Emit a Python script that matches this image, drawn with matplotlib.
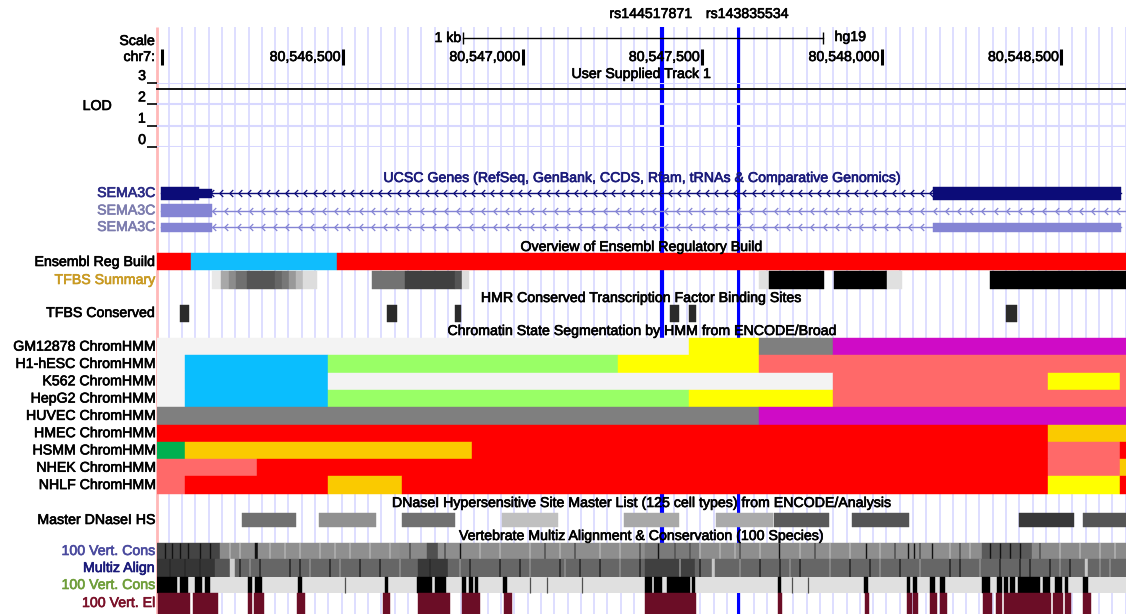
import numpy as np
import matplotlib.pyplot as plt
import matplotlib.patheffects as pe
from matplotlib.path import Path
from matplotlib.transforms import offset_copy

plt.rcParams['font.family'] = ['Liberation Sans', 'DejaVu Sans']

# browser window, chr7 (hg19)
win_start, win_end = 80545982, 80548680
pos_ticks = [80546500, 80547000, 80547500, 80548000, 80548500]
scale_bar = (80546835, 80547835)

snp_names = ['rs144517871', 'rs143835534']
snp_pos = [80547388, 80547600]

# user supplied track (LOD)
lod_pos = [win_start, win_end]
lod_val = [2.72, 2.72]

# UCSC genes: (start, end, kind) blocks
gene_labels = ['SEMA3C', 'SEMA3C', 'SEMA3C']
gene_tx = [(80545993, 80548666), (80545993, 80549200), (80545993, 80548666)]
gene_blocks = [
    [(80545993, 80546099, 'cds'), (80546099, 80546135, 'utr'), (80548142, 80548666, 'cds')],
    [(80545993, 80546135, 'cds')],
    [(80545993, 80546135, 'utr'), (80548142, 80548666, 'utr')],
]

# Ensembl regulatory build
reg_bounds = [win_start, 80546077, 80546483, win_end]
reg_colors = ['#ff0000', '#10bdfd', '#ff0000']

# TFBS summary
tfbs_start = [80546135, 80546160, 80546182, 80546202, 80546233, 80546311, 80546330, 80546349,
              80546369, 80546388, 80546581, 80546672, 80546812, 80546831, 80547658, 80547686,
              80547867, 80548014, 80548301]
tfbs_end = [80546160, 80546182, 80546202, 80546233, 80546311, 80546330, 80546349, 80546369,
            80546388, 80546427, 80546672, 80546812, 80546831, 80546851, 80547686, 80547839,
            80548014, 80548056, 80548680]
tfbs_gray = ['#e8e8e8', '#a8a8a8', '#8c8c8c', '#707070', '#555555', '#666666', '#787878', '#999999',
             '#bbbbbb', '#dddddd', '#727272', '#404040', '#555555', '#dddddd', '#e0e0e0', '#000000',
             '#000000', '#e0e0e0', '#000000']

# HMR conserved TFBS
tfbs_cons_start = [80546046, 80546622, 80546812, 80547410, 80547463, 80548346]
tfbs_cons_end = [80546071, 80546650, 80546828, 80547435, 80547483, 80548376]

# ChromHMM
hmm_colors = {
    'ActProm': '#ff0000', 'WeakProm': '#ff6969', 'PoisProm': '#cf0bc6',
    'StrEnh': '#faca00', 'WeakEnh': '#ffff00', 'Insulator': '#0abefe',
    'TxnTrans': '#00b050', 'WeakTxn': '#99ff66', 'Repressed': '#7f7f7f',
    'Heterochrom': '#f3f3f3',
}
hmm_cells = ['GM12878', 'H1-hESC', 'K562', 'HepG2', 'HUVEC', 'HMEC', 'HSMM', 'NHEK', 'NHLF']
hmm_bounds = [
    [win_start, 80547463, 80547658, 80547864, win_end],
    [win_start, 80546060, 80546458, 80547265, 80547658, win_end],
    [win_start, 80546060, 80546458, 80547864, 80548463, 80548663, win_end],
    [win_start, 80546060, 80546458, 80547463, 80547864, win_end],
    [win_start, 80547658, win_end],
    [win_start, 80548463, win_end],
    [win_start, 80546060, 80546859, 80548463, 80548663, win_end],
    [win_start, 80546260, 80548463, 80548663, win_end],
    [win_start, 80546060, 80546458, 80546664, 80548463, 80548663, win_end],
]
hmm_states = [
    ['Heterochrom', 'WeakEnh', 'Repressed', 'PoisProm'],
    ['Heterochrom', 'Insulator', 'WeakTxn', 'WeakEnh', 'WeakProm'],
    ['Heterochrom', 'Insulator', 'Heterochrom', 'WeakProm', 'WeakEnh', 'WeakProm'],
    ['Heterochrom', 'Insulator', 'WeakTxn', 'WeakEnh', 'WeakProm'],
    ['Repressed', 'PoisProm'],
    ['ActProm', 'StrEnh'],
    ['TxnTrans', 'StrEnh', 'ActProm', 'WeakProm', 'ActProm'],
    ['WeakProm', 'ActProm', 'WeakProm', 'StrEnh'],
    ['WeakProm', 'ActProm', 'StrEnh', 'ActProm', 'WeakEnh', 'ActProm'],
]

# DNaseI master list
dnase_start = [80546219, 80546433, 80546664, 80546942, 80547282, 80547538, 80547700, 80547917,
               80548382, 80548560]
dnase_end = [80546369, 80546592, 80546812, 80547098, 80547435, 80547697, 80547853, 80548076,
             80548535, 80548680]
dnase_gray = ['#707070', '#909090', '#707070', '#c0c0c0', '#a8a8a8', '#aaaaaa', '#5a5a5a',
              '#555555', '#383838', '#555555']

# 100 vert. conservation (dense)
cons_bounds = [win_start, 80546157, 80546255, 80546263, 80546659, 80546734, 80546764, 80547341,
               80547494, 80548279, 80548418, win_end]
cons_gray = ['#444444', '#8c8c8c', '#111111', '#8f8f8f', '#8a8a8a', '#505050', '#8e8e8e',
             '#7a7a7a', '#8e8e8e', '#5a5a5a', '#8a8a8a']
cons_dark = [80546004, 80546024, 80546046, 80546068, 80546102, 80546130, 80546826, 80547377,
             80547714, 80547956, 80548073, 80548090, 80548140, 80548301, 80548329, 80548357,
             80548385]
cons_mid = [80546686, 80546784, 80547062, 80547146, 80547327, 80547424, 80547466, 80547605,
            80547814, 80548037, 80548106, 80548218, 80548440]
cons_light = [80546185, 80546213, 80546297, 80546338, 80546380, 80546436, 80546478, 80546519,
              80546575, 80546631, 80546881, 80546937, 80547020, 80547104, 80547215, 80547271,
              80547494, 80547549, 80547591, 80547661, 80547772, 80547856, 80547911, 80547995,
              80548190, 80548245, 80548496, 80548552, 80548607, 80548649]

# multiz alignment
multiz_bounds = [win_start, 80546143, 80546185, 80546199, 80546709, 80546792, 80547341, 80547480,
                 80547527, 80547535, 80548566, 80548574, win_end]
multiz_gray = ['#353535', '#555555', '#d0d0d0', '#666666', '#383838', '#666666', '#404040',
               '#676767', '#c8c8c8', '#666666', '#c8c8c8', '#666666']
multiz_dark = [80546018, 80546060, 80546102, 80546213, 80546269, 80546352, 80546380, 80546464,
               80546547, 80546603, 80546742, 80546853, 80546937, 80546993, 80547104, 80547160,
               80547215, 80547327, 80547494, 80547661, 80547716, 80547772, 80547911, 80547967,
               80548051, 80548190, 80548218, 80548329, 80548385, 80548412, 80548468, 80548524]
multiz_light = [80546241, 80546408, 80546491, 80546659, 80546826, 80547020, 80547118, 80547271,
                80547438, 80547605, 80547744, 80547856, 80547995, 80548106, 80548273, 80548496,
                80548607, 80548635]

# 100 vert. conservation (phyloP style)
phylo_start = [80545982, 80546046, 80546088, 80546116, 80546235, 80546255, 80546375, 80546617,
               80546706, 80546756, 80546831, 80546851, 80546867, 80546945, 80547341, 80547366,
               80547402, 80547471, 80547711, 80547950, 80548070, 80548087, 80548134, 80548162,
               80548279, 80548321, 80548340, 80548357, 80548379, 80548449, 80548482, 80548510,
               80548560]
phylo_end = [80546038, 80546068, 80546107, 80546130, 80546246, 80546274, 80546386, 80546625,
             80546748, 80546787, 80546842, 80546862, 80546876, 80546956, 80547360, 80547388,
             80547466, 80547480, 80547719, 80547961, 80548079, 80548098, 80548148, 80548176,
             80548301, 80548334, 80548351, 80548371, 80548440, 80548468, 80548502, 80548518,
             80548574]
phylo_thin = [80546505, 80547020, 80547068, 80547165, 80547750, 80547794]

# 100 vert. conserved elements
el_start = [80545985, 80546082, 80546235, 80546252, 80546372, 80546611, 80546709, 80546831,
            80546948, 80547341, 80547711, 80547953, 80548070, 80548087, 80548134, 80548162,
            80548282, 80548318, 80548340, 80548476, 80548510, 80548560]
el_end = [80546074, 80546152, 80546246, 80546280, 80546394, 80546631, 80546798, 80546881,
          80546970, 80547483, 80547722, 80547964, 80548084, 80548101, 80548154, 80548181,
          80548307, 80548334, 80548471, 80548504, 80548527, 80548582]


W, H = 1126, 614
fig = plt.figure(figsize=(W / 100, H / 100), dpi=100)
lab = fig.add_axes([0, 0, 157 / W, 1])
lab.set_xlim(0, 157)
lab.set_ylim(H, 0)
lab.axis('off')
ax = fig.add_axes([157 / W, 0, 969 / W, 1])
ax.set_xlim(win_start, win_end)
ax.set_ylim(H, 0)
ax.axis('off')

FS = 10.2
mid = (win_start + win_end) / 2


def heavy(color):
    # the screenshot text is a little blurred / heavy
    return [pe.withStroke(linewidth=0.45, foreground=color)]


def label(y, s, color='black'):
    lab.text(155, y, s, ha='right', va='center', fontsize=FS, color=color, path_effects=heavy(color))


def title(y, s, color='black'):
    ax.text(mid, y, s, ha='center', va='center', fontsize=FS, color=color, zorder=6,
            path_effects=heavy(color))


def segs(bounds, colors, y0, y1):
    xr = [(a, b - a) for a, b in zip(bounds[:-1], bounds[1:])]
    ax.broken_barh(xr, (y0, y1 - y0), facecolors=colors, edgecolors=colors, linewidth=0.3, zorder=3)


def boxes(starts, ends, colors, y0, y1):
    xr = [(a, b - a) for a, b in zip(starts, ends)]
    ax.broken_barh(xr, (y0, y1 - y0), facecolors=colors, edgecolors=colors, linewidth=0.3, zorder=3)


# guidelines, window edge, snp highlights
ax.vlines(np.arange(win_start + 33, win_end, 37.0), 27, H, color='#d8d8ff', lw=1.2, zorder=1)
ax.vlines(win_start, 27, H, color='#ffb8b8', lw=2.0, zorder=1, clip_on=False)
ax.vlines(snp_pos, 27, H, color='#0000ff', lw=[3.0, 2.2], zorder=2)
for name, p, dx in zip(snp_names, snp_pos, [-11, 9]):
    ax.text(p, 14, name, ha='center', va='center', fontsize=FS, path_effects=heavy('black'),
            transform=offset_copy(ax.transData, fig, x=dx, units='dots'))

# scale / position header
label(41, 'Scale')
label(57, 'chr7:')
ax.plot(scale_bar, [38, 38], color='black', lw=1.0)
ax.vlines(scale_bar, 32, 44, color='black', lw=1.0)
ax.text(scale_bar[0], 38, '1 kb', ha='right', va='center', fontsize=FS, path_effects=heavy('black'),
        transform=offset_copy(ax.transData, fig, x=-2, units='dots'))
ax.text(scale_bar[1], 37, 'hg19', ha='left', va='center', fontsize=FS, path_effects=heavy('black'),
        transform=offset_copy(ax.transData, fig, x=12, units='dots'))
ax.vlines([win_start + 14] + pos_ticks, 49, 65, color='black', lw=2.2, zorder=5)
for p in pos_ticks:
    ax.text(p, 57, f'{p:,}', ha='right', va='center', fontsize=FS, zorder=6, path_effects=heavy('black'),
            transform=offset_copy(ax.transData, fig, x=-3, units='dots'))

# user supplied track
title(74, 'User Supplied Track 1')
lab.text(97, 106, 'LOD', ha='center', va='center', fontsize=FS, path_effects=heavy('black'))
lod = fig.add_axes([157 / W, 1 - 147 / H, 969 / W, 64 / H])
lod.patch.set_visible(False)
lod.set_xlim(win_start, win_end)
lod.set_ylim(0, 3)
for s in lod.spines.values():
    s.set_visible(False)
lod.set_xticks([])
lod.set_yticks([0, 1, 2, 3])
lod.set_yticklabels(['0', '1', '2', '3'], fontsize=FS)
for t in lod.get_yticklabels():
    t.set_verticalalignment('bottom')
    t.set_path_effects(heavy('black'))
lod.tick_params(axis='y', length=7, width=1.2, pad=1, color='black')
lod.grid(axis='y', color='#d8d8ff', lw=1.5)
lod.plot(lod_pos, lod_val, color='black', lw=1.3, clip_on=False)

# UCSC genes
title(178, 'UCSC Genes (RefSeq, GenBank, CCDS, Rfam, tRNAs & Comparative Genomics)', '#1a1a7a')
gene_y = [193, 210.5, 227]
gene_colors = ['#0c0c78', '#8484d4', '#8484d4']
label_colors = ['#2b2b85', '#7c7cae', '#7c7cae']
chev = Path([(0.5, 1), (-0.5, 0), (0.5, -1)], [Path.MOVETO, Path.LINETO, Path.LINETO])
for gi in range(3):
    y, c = gene_y[gi], gene_colors[gi]
    label(y, gene_labels[gi], label_colors[gi])
    t0, t1 = gene_tx[gi]
    ax.plot([t0, t1], [y, y], color=c, lw=1.0, zorder=3)
    step = 26 if gi == 0 else 34
    cx = np.arange(t0 + 12, t1, step)
    ax.plot(cx, np.full(len(cx), y), ls='none', marker=chev, ms=5, mew=0.9, mfc='none', mec=c, zorder=3)
    for a, b, kind in gene_blocks[gi]:
        h = 13 if kind == 'cds' else 9
        ax.broken_barh([(a, b - a)], (y - h / 2, h), facecolors=c, edgecolors=c, lw=0.3, zorder=4)

# Ensembl regulation
title(247, 'Overview of Ensembl Regulatory Build')
label(262, 'Ensembl Reg Build')
segs(reg_bounds, reg_colors, 253, 270)
label(280, 'TFBS Summary', '#c99a22')
boxes(tfbs_start, tfbs_end, tfbs_gray, 271, 289)

title(298, 'HMR Conserved Transcription Factor Binding Sites')
label(313, 'TFBS Conserved')
boxes(tfbs_cons_start, tfbs_cons_end, ['#2a2a2a'] * len(tfbs_cons_start), 305, 322)

# ChromHMM
title(331, 'Chromatin State Segmentation by HMM from ENCODE/Broad')
row_h = 17.3
for i, cell in enumerate(hmm_cells):
    y0 = 338 + i * row_h
    label(y0 + row_h / 2, f'{cell} ChromHMM')
    segs(hmm_bounds[i], [hmm_colors[s] for s in hmm_states[i]], y0, y0 + row_h)

# DNase
title(503, 'DNaseI Hypersensitive Site Master List (125 cell types) from ENCODE/Analysis')
label(520, 'Master DNaseI HS')
boxes(dnase_start, dnase_end, dnase_gray, 513, 527)

# conservation
title(536, 'Vertebrate Multiz Alignment & Conservation (100 Species)')
label(551, '100 Vert. Cons', '#4a4a9e')
segs(cons_bounds, cons_gray, 543, 559)
ax.vlines(cons_light, 543, 559, color='#aaaaaa', lw=1.4, zorder=3)
ax.vlines(cons_mid, 543, 559, color='#555555', lw=1.2, zorder=3)
ax.vlines(cons_dark, 543, 559, color='#111111', lw=1.0, zorder=3)

label(568, 'Multiz Align', '#1a1a7a')
segs(multiz_bounds, multiz_gray, 559, 577)
ax.vlines(multiz_light, 559, 577, color='#8c8c8c', lw=1.2, zorder=3)
ax.vlines(multiz_dark, 559, 577, color='#2a2a2a', lw=1.2, zorder=3)

label(585, '100 Vert. Cons', '#6f9e3a')
ax.broken_barh([(win_start, win_end - win_start)], (577, 16), facecolors='#e0e0e0', zorder=3)
boxes(phylo_start, phylo_end, ['#000000'] * len(phylo_start), 577, 593)
ax.vlines(phylo_thin, 577, 593, color='#505050', lw=0.9, zorder=3)

label(603, '100 Vert. El', '#7a1028')
boxes(el_start, el_end, ['#6b0d26'] * len(el_start), 593, 614)

fig.savefig('out.png', dpi=100)
